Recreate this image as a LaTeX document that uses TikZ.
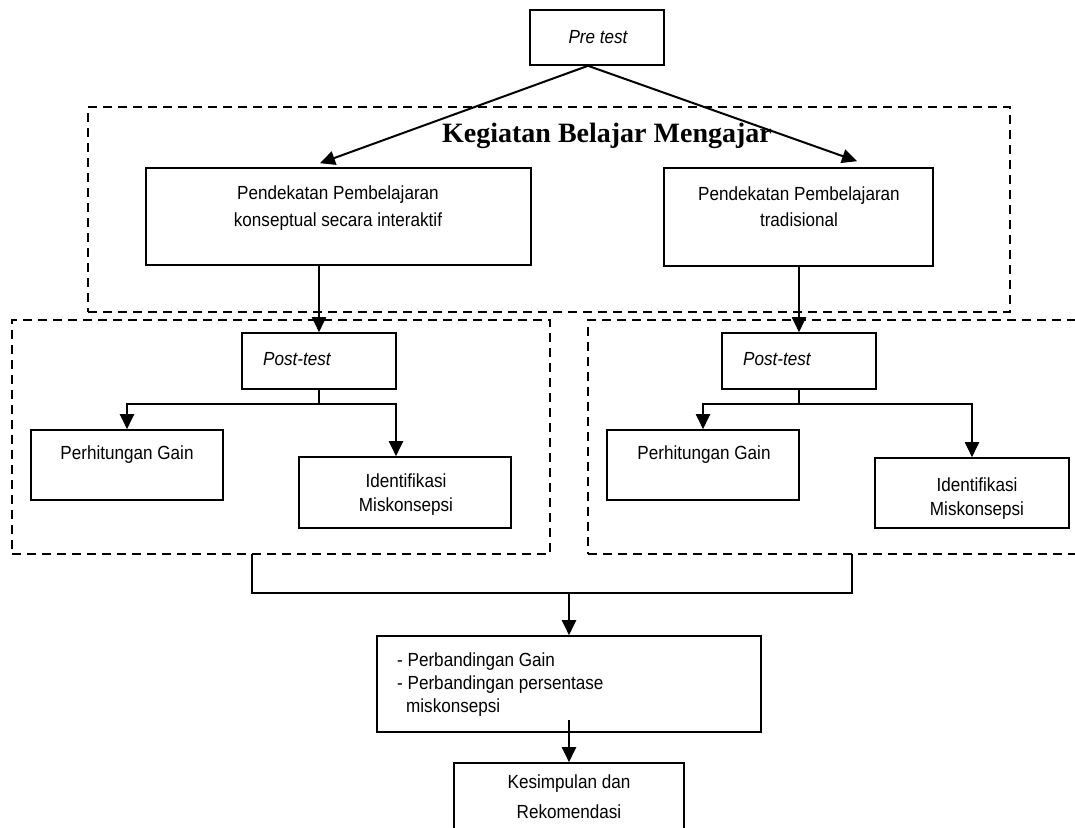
\documentclass[tikz,border=0pt]{standalone}
\usepackage{fontspec}
\setmainfont[FakeStretch=0.9]{Liberation Sans}
\newfontfamily\headfont{Liberation Serif}
\usetikzlibrary{arrows.meta,calc}
\newcommand\myfs[2]{\fontsize{#1}{#2}\selectfont}
\begin{document}
\begin{tikzpicture}[x=1pt,y=-1pt,
  box/.style={draw, line width=1.6pt, inner sep=0pt, rectangle},
  dbox/.style={draw, line width=1.5pt, dash pattern=on 9pt off 6pt, inner sep=0pt, rectangle},
  conn/.style={line width=2pt},
  arr/.style={line width=2pt, -{Triangle[length=15pt,width=14pt]}},
  txt/.style={inner sep=0pt, font=\myfs{19}{24}},
]
\useasboundingbox (0,0) rectangle (1075,827);
\clip (0,0) rectangle (1075,827);

% dashed groups
\node[dbox, minimum width=922pt, minimum height=205pt] (keg) at (549,209.5) {};
\node[dbox, minimum width=538pt, minimum height=234pt] (dl) at (281,437) {};
\node[dbox, minimum width=502pt, minimum height=234pt] (dr) at (839,437) {};

% boxes
\node[box, minimum width=134pt, minimum height=55pt] (pre) at (597,37.5) {};
\node[box, minimum width=385pt, minimum height=97pt] (pdl) at (338.5,216.5) {};
\node[box, minimum width=269pt, minimum height=98pt] (pdr) at (798.5,217) {};
\node[box, minimum width=154pt, minimum height=56pt] (ptl) at (319,361) {};
\node[box, minimum width=154pt, minimum height=56pt] (ptr) at (799,361) {};
\node[box, minimum width=192pt, minimum height=70pt] (pgl) at (127,465) {};
\node[box, minimum width=212pt, minimum height=71pt] (idl) at (405,492.5) {};
\node[box, minimum width=192pt, minimum height=70pt] (pgr) at (703,465) {};
\node[box, minimum width=194pt, minimum height=70pt] (idr) at (972,493) {};
\node[box, minimum width=384pt, minimum height=96pt] (pb) at (569,684) {};
\node[box, minimum width=230pt, minimum height=80pt] (ks) at (569,803) {};

% texts
\node[txt, font=\myfs{19}{24}\itshape] (tpre) at (598,37) {Pre test};
\node[inner sep=0pt, font=\headfont\bfseries\myfs{28}{30}, anchor=east] (tkeg) at (772,136) {Kegiatan Belajar Mengajar};
\node[txt, align=center, font=\myfs{19}{27}] (tpdl) at (338,208.5) {Pendekatan Pembelajaran\\konseptual secara interaktif};
\node[txt, align=center, font=\myfs{19}{26}] (tpdr) at (799,207) {Pendekatan Pembelajaran\\tradisional};
\node[txt, anchor=west, font=\myfs{19}{24}\itshape] (tptl) at (263,359) {Post-test};
\node[txt, anchor=west, font=\myfs{19}{24}\itshape] (tptr) at (743,359) {Post-test};
\node[txt] (tpgl) at (127,455) {Perhitungan Gain};
\node[txt] (tpgr) at (704,455) {Perhitungan Gain};
\node[txt, align=center] (tidl) at (406,495) {Identifikasi\\Miskonsepsi};
\node[txt, align=center] (tidr) at (977,499) {Identifikasi\\Miskonsepsi};
\node[txt, align=left, anchor=west, font=\myfs{19}{23}] (tpb) at (397,685) {- Perbandingan Gain\\- Perbandingan persentase\\\hspace*{9pt}miskonsepsi};
\node[txt, align=center, font=\myfs{19}{30}] (tks) at (569,797) {Kesimpulan dan\\Rekomendasi};

% connectors
\coordinate (prefoot) at ($(pre.south)+(-9,0)$);
\draw[arr] (prefoot) -- ($(pdl.north)+(-18.5,-4)$);
\draw[arr] (prefoot) -- ($(pdr.north)+(58.5,-6)$);
\draw[arr] (ptl.north |- pdl.south) -- (ptl.north);
\draw[arr] (ptr.north |- pdr.south) -- (ptr.north);

\coordinate (jl) at ($(ptl.south)+(0,14)$);
\draw[conn] (ptl.south) -- (jl);
\draw[arr] (jl) -| (pgl.north);
\draw[arr] (jl) -| ($(idl.north)+(-9,0)$);

\coordinate (jr) at ($(ptr.south)+(0,14)$);
\draw[conn] (ptr.south) -- (jr);
\draw[arr] (jr) -| (pgr.north);
\draw[arr] (jr) -| (idr.north);

\coordinate (jbl) at (252,554);
\coordinate (jbr) at (852,554);
\draw[conn] (jbl) -- (252,593) -- (852,593) -- (jbr);
\draw[arr] (569,592) -- (pb.north);
\draw[arr] (569,720) -- (ks.north);
\end{tikzpicture}
\end{document}
